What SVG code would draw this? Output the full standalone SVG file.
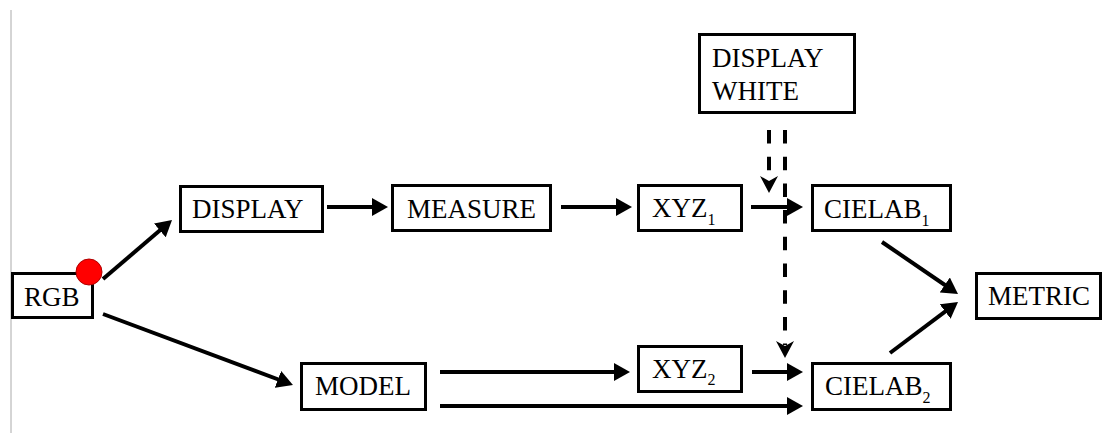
<svg xmlns="http://www.w3.org/2000/svg" width="1103" height="436" viewBox="0 0 1103 436">
<style>
.box{fill:#fff;stroke:#000;stroke-width:3}
.c{fill:none;stroke:#000;stroke-width:4}
.d{stroke-dasharray:13.5 13.2}
</style>
<defs>
<marker id="ah" viewBox="0 0 16 18" refX="9" refY="9" markerWidth="16" markerHeight="18" markerUnits="userSpaceOnUse" orient="auto">
<path d="M0,0 L16,9 L0,18 z" fill="#000"/>
</marker>
<marker id="dh" viewBox="0 0 17 18" refX="4" refY="9" markerWidth="17" markerHeight="18" markerUnits="userSpaceOnUse" orient="auto">
<path d="M0,0 L17,9 L0,18 L5,9 z" fill="#000"/>
</marker>
</defs>
<rect width="1103" height="436" fill="#fff"/>
<line x1="11" y1="10" x2="11" y2="433" stroke="#aaa" stroke-width="1"/>
<g id="connectors">
<line class="c" x1="103" y1="279" x2="166.7" y2="224.6" marker-end="url(#ah)"/>
<line class="c" x1="103" y1="314" x2="286.4" y2="382.5" marker-end="url(#ah)"/>
<line class="c" x1="327" y1="207" x2="381" y2="207" marker-end="url(#ah)"/>
<line class="c" x1="561" y1="207" x2="625" y2="207" marker-end="url(#ah)"/>
<line class="c" x1="751" y1="207" x2="796" y2="207" marker-end="url(#ah)"/>
<line class="c" x1="440" y1="372" x2="623" y2="372" marker-end="url(#ah)"/>
<line class="c" x1="752" y1="372" x2="796" y2="372" marker-end="url(#ah)"/>
<line class="c" x1="440" y1="406" x2="796" y2="406" marker-end="url(#ah)"/>
<line class="c" x1="882" y1="242" x2="952.2" y2="290" marker-end="url(#ah)"/>
<line class="c" x1="890" y1="353" x2="952.4" y2="306.2" marker-end="url(#ah)"/>
<line class="c d" x1="769" y1="130" x2="769" y2="180" marker-end="url(#dh)"/>
<line class="c d" x1="785" y1="130" x2="785" y2="345" marker-end="url(#dh)"/>
</g>
<g font-family="Liberation Serif, Times New Roman, serif" font-size="27" fill="#000">
<g id="rgb">
<rect class="box" x="12.5" y="273.5" width="80" height="44"/>
<text x="24" y="306">RGB</text>
<circle cx="89" cy="272" r="13" fill="#ff0000" stroke="#b00000" stroke-width="1"/>
</g>
<g id="display">
<rect class="box" x="180.5" y="186.5" width="142" height="45"/>
<text x="192" y="218">DISPLAY</text>
</g>
<g id="measure">
<rect class="box" x="392.5" y="185.5" width="158" height="45"/>
<text x="407" y="218">MEASURE</text>
</g>
<g id="xyz1">
<rect class="box" x="638.5" y="185.5" width="103" height="45"/>
<text x="652" y="217">XYZ<tspan font-size="16" dy="8">1</tspan></text>
</g>
<g id="display-white">
<rect class="box" x="699.5" y="34.5" width="155" height="78"/>
<text x="712" y="67">DISPLAY</text>
<text x="712" y="100">WHITE</text>
</g>
<g id="cielab1">
<rect class="box" x="812.5" y="185.5" width="138" height="45"/>
<text x="824" y="218">CIELAB<tspan font-size="16" dy="8">1</tspan></text>
</g>
<g id="model">
<rect class="box" x="301.5" y="363.5" width="124" height="46"/>
<text x="315" y="395">MODEL</text>
</g>
<g id="xyz2">
<rect class="box" x="638.5" y="346.5" width="103" height="45"/>
<text x="652" y="378">XYZ<tspan font-size="16" dy="7">2</tspan></text>
</g>
<g id="cielab2">
<rect class="box" x="812.5" y="363.5" width="138" height="46"/>
<text x="825" y="395">CIELAB<tspan font-size="16" dy="8">2</tspan></text>
</g>
<g id="metric">
<rect class="box" x="976.5" y="273.5" width="124" height="45"/>
<text x="988" y="305">METRIC</text>
</g>
</g>
</svg>
